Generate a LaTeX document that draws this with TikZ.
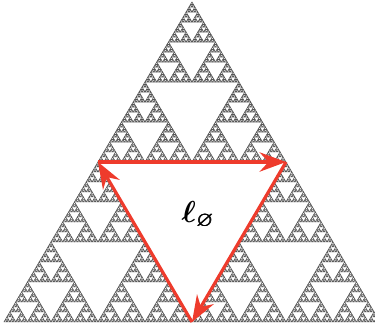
\documentclass[tikz,border=0pt]{standalone}
\usepackage{amsmath,amssymb,bm}
\usepackage{xcolor}
\usetikzlibrary{arrows.meta}
\definecolor{SierGray}{HTML}{555555}
\definecolor{SierRed}{HTML}{EE3B2C}

% top vertex x, top vertex y, size (leaf size 2)
\newcommand\sierp[3]{%
  \ifnum#3>2
    \edef\sierpnext{%
      \noexpand\sierp{#1}{#2}{\the\numexpr#3/2\relax}%
      \noexpand\sierp{\the\numexpr#1-#3/4\relax}{\the\numexpr#2+#3/2\relax}{\the\numexpr#3/2\relax}%
      \noexpand\sierp{\the\numexpr#1+#3/4\relax}{\the\numexpr#2+#3/2\relax}{\the\numexpr#3/2\relax}}%
    \expandafter\sierpnext
  \else
    \draw[tri] (#1,#2) -- ++(-1,2) -- ++(2,0) -- cycle;
  \fi}

\begin{document}
\begin{tikzpicture}[x=0.02cm,y=-0.02cm,
  tri/.style={draw=SierGray,line width=0.35pt,line join=round},
  loop/.style={SierRed,line width=1.8pt,
    -{Stealth[length=15pt,width=11pt,inset=5pt]}},
  lab/.style={font=\LARGE,inner sep=1pt}]
  \useasboundingbox (0,0) rectangle (375,329);
  \begin{scope}[xshift=3.84cm,yshift=-0.04cm,x=0.029375cm,y=-0.025cm]
    \sierp{0}{0}{256}
  \end{scope}
  \coordinate (A) at (98,162);
  \coordinate (B) at (286,162);
  \coordinate (C) at (192,322);
  \draw[loop] (A) -- (B);
  \draw[loop] (B) -- (C);
  \draw[loop] (C) -- (A);
  \node[lab] (L) at (198,215) {$\bm{\ell}_{\bm{\varnothing}}$};
\end{tikzpicture}
\end{document}
